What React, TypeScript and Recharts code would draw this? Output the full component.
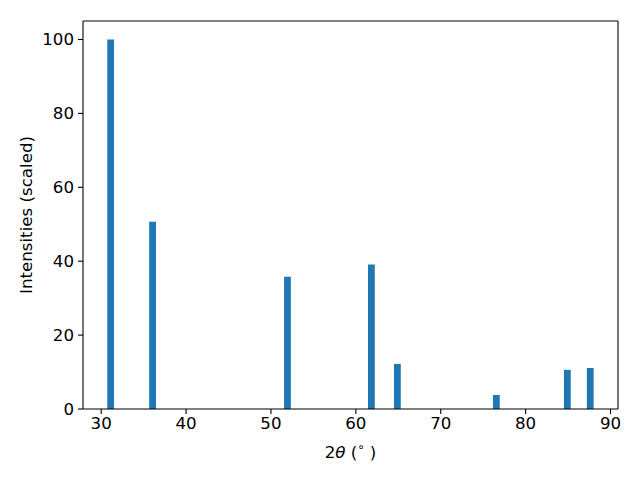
import React from "react";
import { ComposedChart, Bar, XAxis, YAxis, ReferenceLine } from "recharts";

const peakPositions = [31.12, 36.06, 51.95, 61.84, 64.9, 76.56, 84.92, 87.62];
const peakIntensities = [100, 50.7, 35.8, 39.1, 12.2, 3.8, 10.6, 11.1];
const xTicks = [30, 40, 50, 60, 70, 80, 90];
const yTicks = [0, 20, 40, 60, 80, 100];
const X_DOMAIN: [number, number] = [27.855, 90.885];
const Y_DOMAIN: [number, number] = [0, 105];

const data = peakPositions.map((x, i) => ({ x, y: peakIntensities[i] }));

const FONT = "DejaVu Sans";
const FS = 16.67;

const XLabel = (props: any) => {
  const vb = props.viewBox || {};
  const cx = vb.x + vb.width / 2;
  const y = vb.y + 49;
  return (
    <text x={cx} y={y} textAnchor="middle" fontFamily={FONT} fontSize={FS} fill="#000">
      2<tspan fontStyle="italic">θ</tspan> (<tspan fontSize={FS * 0.7} dy={-7}>∘</tspan><tspan dy={7}> )</tspan>
    </text>
  );
};

const YLabel = (props: any) => {
  const vb = props.viewBox || {};
  const cy = vb.y + vb.height / 2;
  const x = 26;
  return (
    <text x={x} y={cy} textAnchor="middle" dominantBaseline="central" transform={`rotate(-90, ${x}, ${cy})`} fontFamily={FONT} fontSize={FS} fill="#000">
      Intensities (scaled)
    </text>
  );
};

export default function App() {
  return (
    <div style={{ position: "absolute", left: 0, top: 0, width: 640, height: 480, background: "#fff" }}>
      <ComposedChart width={640} height={480} data={data} margin={{ top: 21, right: 22, bottom: 0, left: 0 }}>
        <XAxis
          dataKey="x"
          type="number"
          domain={X_DOMAIN}
          ticks={xTicks}
          allowDataOverflow
          height={71}
          tickSize={5}
          tickMargin={3}
          tick={{ fontFamily: FONT, fontSize: FS, fill: "#000" }}
          stroke="#000"
          axisLine={{ stroke: "#000", strokeWidth: 1.1 }}
          tickLine={{ stroke: "#000", strokeWidth: 1.1 }}
          label={<XLabel />}
        />
        <YAxis
          type="number"
          domain={Y_DOMAIN}
          ticks={yTicks}
          allowDataOverflow
          width={83}
          tickSize={5}
          tickMargin={4}
          tick={{ fontFamily: FONT, fontSize: FS, fill: "#000" }}
          axisLine={{ stroke: "#000", strokeWidth: 1.1 }}
          tickLine={{ stroke: "#000", strokeWidth: 1.1 }}
          label={<YLabel />}
        />
        <Bar dataKey="y" fill="#1f77b4" barSize={6.8} isAnimationActive={false} />
        <ReferenceLine y={Y_DOMAIN[1]} stroke="#000" strokeWidth={1.1} ifOverflow="visible" />
        <ReferenceLine x={X_DOMAIN[1]} stroke="#000" strokeWidth={1.1} ifOverflow="visible" />
      </ComposedChart>
    </div>
  );
}
